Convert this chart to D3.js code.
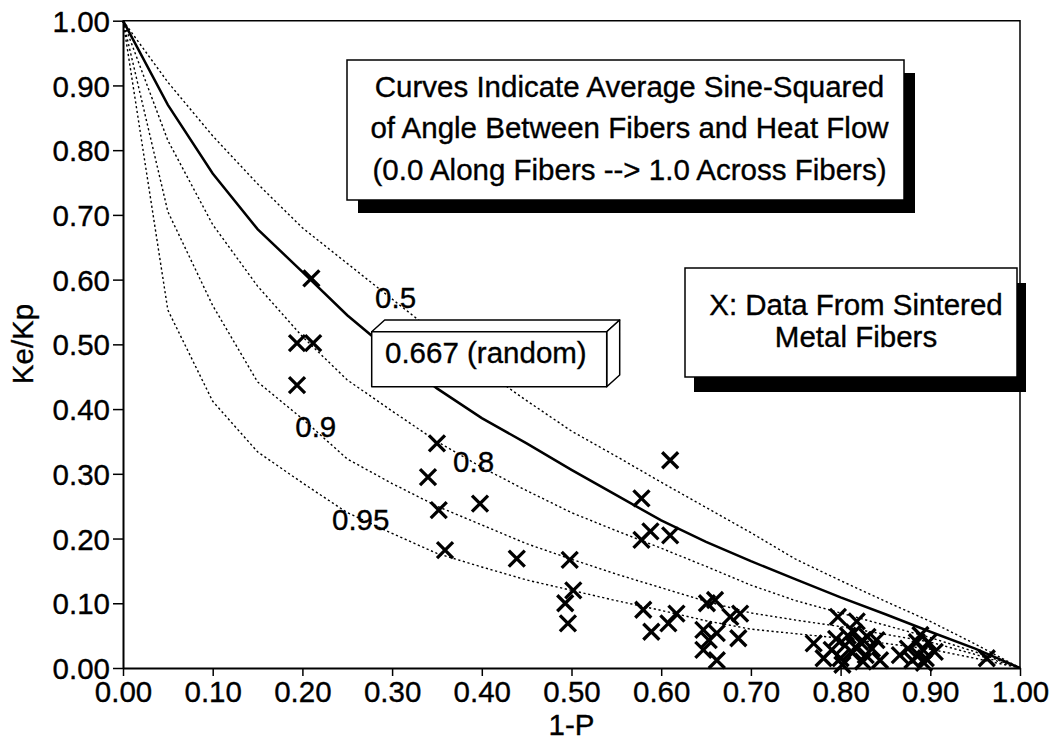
<!DOCTYPE html>
<html><head><meta charset="utf-8">
<script src="https://cdn.jsdelivr.net/npm/d3@7"></script>
<style>
body{margin:0;background:#fff}
text{font-family:"Liberation Sans",Arial,Helvetica,sans-serif;fill:#000}
</style>
</head><body>
<svg id="chart" width="1059" height="740"></svg>
<script>
// ---- data ----
const xGrid      = [0,0.05,0.10,0.15,0.20,0.25,0.30,0.35,0.40,0.45,0.50,0.55,0.60,0.65,0.70,0.75,0.80,0.85,0.90,0.95,1.00];
const curve050   = [1,0.905,0.822,0.748,0.680,0.625,0.570,0.515,0.462,0.413,0.366,0.327,0.287,0.248,0.209,0.168,0.135,0.103,0.072,0.037,0];
const curve0667  = [1,0.870,0.764,0.678,0.612,0.545,0.487,0.432,0.386,0.347,0.306,0.267,0.228,0.195,0.165,0.137,0.109,0.083,0.056,0.030,0];
const curve080   = [1,0.815,0.685,0.590,0.512,0.445,0.397,0.350,0.310,0.274,0.240,0.212,0.185,0.157,0.128,0.104,0.085,0.066,0.047,0.025,0];
const curve090   = [1,0.705,0.560,0.442,0.385,0.323,0.285,0.250,0.221,0.192,0.168,0.145,0.124,0.103,0.085,0.074,0.064,0.052,0.040,0.021,0];
const curve095   = [1,0.553,0.412,0.334,0.286,0.240,0.208,0.177,0.156,0.136,0.120,0.104,0.089,0.073,0.060,0.053,0.046,0.038,0.029,0.015,0];

const dataX = [0.210,0.194,0.212,0.194,0.350,0.340,0.352,0.398,0.359,0.439,
               0.610,0.578,0.578,0.588,0.610,0.498,0.502,0.493,0.496,0.580,
               0.589,0.608,0.617,0.651,0.660,0.647,0.662,0.653,0.647,0.662,
               0.677,0.688,0.686,0.770,0.781,0.797,0.818,0.795,0.805,0.812,
               0.800,0.822,0.828,0.815,0.790,0.840,0.844,0.835,0.866,0.875,
               0.889,0.892,0.885,0.898,0.895,0.905,0.880,0.963,0.808,0.825,
               0.802,0.818,0.887,0.893,0.830];
const dataY = [0.602,0.502,0.502,0.437,0.347,0.295,0.244,0.254,0.182,0.169,
               0.321,0.262,0.198,0.211,0.205,0.167,0.120,0.100,0.069,0.090,
               0.056,0.069,0.084,0.100,0.105,0.059,0.054,0.043,0.028,0.012,
               0.079,0.084,0.046,0.038,0.015,0.079,0.072,0.045,0.035,0.025,
               0.015,0.040,0.020,0.055,0.028,0.043,0.012,0.030,0.020,0.030,
               0.051,0.028,0.040,0.040,0.015,0.025,0.012,0.015,0.050,0.010,
               0.005,0.030,0.020,0.008,0.048];

const tickValues = [0,0.1,0.2,0.3,0.4,0.5,0.6,0.7,0.8,0.9,1.0];
const xTitle = "1-P";
const yTitle = "Ke/Kp";
const noteLines = ["Curves Indicate Average Sine-Squared","of Angle Between Fibers and Heat Flow","(0.0 Along Fibers --> 1.0 Across Fibers)"];
const dataNoteLines = ["X: Data From Sintered","Metal Fibers"];
const randomLabel = "0.667 (random)";
const curveLabelText = ["0.5","0.8","0.9","0.95"];
const curveLabelX = [0.281,0.368,0.192,0.233];
const curveLabelY = [0.5555,0.303,0.357,0.213];

// ---- drawing ----
const svg = d3.select("#chart");
const FS = 29.5;
const TS = 0.35; // slight stroke to mimic heavier print
const x = d3.scaleLinear().domain([0,1]).range([123,1020]);
const y = d3.scaleLinear().domain([0,1]).range([668,20.7]);

const series = [
  {v:curve050, solid:false},
  {v:curve080, solid:false},
  {v:curve090, solid:false},
  {v:curve095, solid:false},
  {v:curve0667, solid:true}
];
const line = d3.line().x(d=>x(d[0])).y(d=>y(d[1])).curve(d3.curveLinear);
svg.append("g").selectAll("path").data(series).join("path")
  .attr("d", s => line(xGrid.map((xv,i)=>[xv, s.v[i]])))
  .attr("fill","none").attr("stroke","#000")
  .attr("stroke-width", s => s.solid ? 2.5 : 1.4)
  .attr("stroke-dasharray", s => s.solid ? null : "2.2,2.6");

// data markers (X)
const pts = dataX.map((xv,i)=>[xv,dataY[i]]);
const mk = svg.append("g").attr("stroke","#000").attr("stroke-width",3.3).attr("stroke-linecap","butt");
const h = 8;
mk.selectAll("path").data(pts).join("path")
  .attr("d", d => { const cx=x(d[0]), cy=y(d[1]);
     return `M${cx-h},${cy-h}L${cx+h},${cy+h}M${cx-h},${cy+h}L${cx+h},${cy-h}`; });

// axes
const yAxis = d3.axisLeft(y).tickValues(tickValues).tickFormat(d3.format(".2f")).tickSize(10).tickSizeOuter(0).tickPadding(3);
const xAxis = d3.axisBottom(x).tickValues(tickValues).tickFormat(d3.format(".2f")).tickSize(8).tickSizeOuter(0).tickPadding(5);
const gy = svg.append("g").attr("transform","translate(123,0)").call(yAxis);
const gx = svg.append("g").attr("transform","translate(0,668)").call(xAxis);
[gy,gx].forEach(g=>{
  g.select(".domain").attr("stroke","#000").attr("stroke-width",2);
  g.selectAll(".tick line").attr("stroke","#000").attr("stroke-width",1.5);
  g.selectAll(".tick text").attr("font-size",FS).attr("fill","#000")
   .attr("stroke","#000").attr("stroke-width",TS)
   .style("font-family","'Liberation Sans',Arial,sans-serif");
});
gy.selectAll(".tick text").attr("dy","0.36em");
// top & right frame
svg.append("path").attr("d",`M${x(0)},${y(1)}H${x(1)}V${y(0)}`).attr("fill","none").attr("stroke","#000").attr("stroke-width",1.5);

// axis titles
svg.append("text").attr("x",571.5).attr("y",735).attr("text-anchor","middle").attr("font-size",FS)
  .attr("stroke","#000").attr("stroke-width",TS).text(xTitle);
svg.append("text").attr("transform","translate(33,344) rotate(-90)").attr("text-anchor","middle").attr("font-size",FS)
  .attr("stroke","#000").attr("stroke-width",TS).text(yTitle);

// curve labels
svg.append("g").selectAll("text").data(curveLabelText).join("text")
  .attr("x",(d,i)=>x(curveLabelX[i])).attr("y",(d,i)=>y(curveLabelY[i]))
  .attr("font-size",FS).attr("stroke","#000").attr("stroke-width",TS).text(d=>d);

// note boxes with shadow
function shadowBox(bx,by,bw,bh,dx,dy){
  svg.append("rect").attr("x",bx+dx).attr("y",by+dy).attr("width",bw).attr("height",bh).attr("fill","#000");
  svg.append("rect").attr("x",bx).attr("y",by).attr("width",bw).attr("height",bh)
    .attr("fill","#fff").attr("stroke","#000").attr("stroke-width",1.5);
}
shadowBox(347,60,557,140,11,13);
svg.append("g").selectAll("text").data(noteLines).join("text")
  .attr("x",629.5).attr("y",(d,i)=>96.5+i*41.5).attr("text-anchor","middle").attr("font-size",FS)
  .attr("stroke","#000").attr("stroke-width",TS).text(d=>d);

shadowBox(685,268,332,109,9,15);
svg.append("g").selectAll("text").data(dataNoteLines).join("text")
  .attr("x",856).attr("y",(d,i)=>315+i*31.7).attr("text-anchor","middle").attr("font-size",FS)
  .attr("stroke","#000").attr("stroke-width",TS).text(d=>d);

// 3D box for random label
const fx0=371.7, fy0=331.7, fx1=606.7, fy1=386.7, ddx=13, ddy=-11.7;
const g3 = svg.append("g").attr("fill","#fff").attr("stroke","#000").attr("stroke-width",1.5).attr("stroke-linejoin","round");
g3.append("path").attr("d",`M${fx0},${fy0}L${fx0+ddx},${fy0+ddy}L${fx1+ddx},${fy0+ddy}L${fx1},${fy0}Z`);
g3.append("path").attr("d",`M${fx1},${fy0}L${fx1+ddx},${fy0+ddy}L${fx1+ddx},${fy1+ddy}L${fx1},${fy1}Z`);
g3.append("rect").attr("x",fx0).attr("y",fy0).attr("width",fx1-fx0).attr("height",fy1-fy0);
svg.append("text").attr("x",385).attr("y",363.3).attr("font-size",FS)
  .attr("stroke","#000").attr("stroke-width",TS).text(randomLabel);
</script>
</body></html>
